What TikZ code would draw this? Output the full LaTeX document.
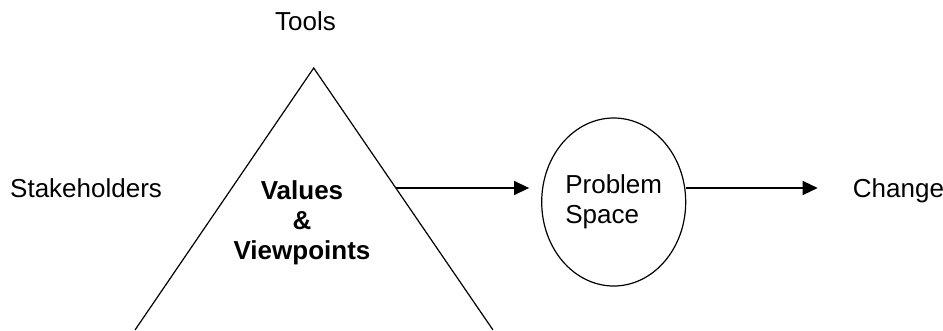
\documentclass[tikz,border=0pt]{standalone}
\usepackage{fontspec}
\setmainfont{Liberation Sans}
\usetikzlibrary{arrows.meta,shapes.geometric,calc}

\begin{document}
\begin{tikzpicture}[x=1pt, y=-1pt,
  lbl/.style={inner sep=0, font=\fontsize{26}{30}\selectfont},
  flow/.style={line width=1.3pt, -{Triangle[length=15pt,width=14pt]}}]
\useasboundingbox (0,0) rectangle (943,330);
% triangle
\coordinate (apex) at (313.7,68);
\coordinate (baseL) at (135,330);
\coordinate (baseR) at (493,330);
\draw[line width=1.2pt] (baseL) -- (apex) -- (baseR);
\coordinate (vvedge) at ($(apex)!0.458!(baseR)$);
\node[lbl, anchor=base] (tools) at (305.5,30) {Tools};
\node[lbl, anchor=base west] (stake) at (10,197) {Stakeholders};
\node[lbl, anchor=north, align=center, font=\fontsize{26}{30}\selectfont\bfseries] (vv) at (302,180) {Values\\\&\\Viewpoints};
% problem space
\node[lbl, draw, line width=1.2pt, ellipse, align=left, minimum width=144pt, minimum height=168pt] (ps) at (613.7,202) {Problem\\Space};
\node[lbl, anchor=base west] (change) at (852.7,197) {Change};
\draw[flow] (vvedge) -- ([xshift=-12pt]ps.west |- vvedge);
\draw[flow] (ps.east |- vvedge) -- ([xshift=-35pt]change.west |- vvedge);
\end{tikzpicture}
\end{document}
